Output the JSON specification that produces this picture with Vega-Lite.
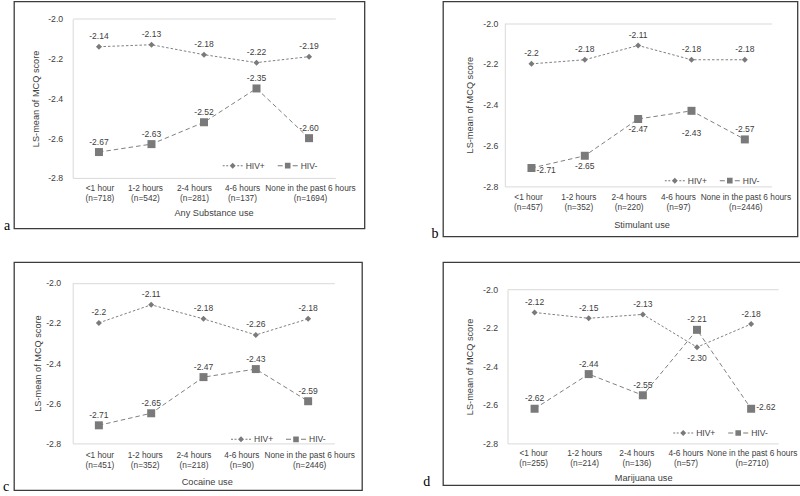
{
  "$schema": "https://vega.github.io/schema/vega-lite/v6.json",
  "background": "white",
  "padding": {"left": 2, "top": 0.5, "right": 0, "bottom": 0},
  "columns": 2,
  "bounds": "flush",
  "spacing": {"row": 25.7, "column": 78},
  "resolve": {"scale": {"shape": "independent"}, "legend": {"shape": "independent"}},
  "config": {
    "font": "Liberation Sans",
    "view": {"stroke": "#3c3c3c", "strokeWidth": 1.3},
    "axis": {"labelFont": "Liberation Sans", "titleFont": "Liberation Sans", "labelFontSize": 8.7, "titleFontSize": 9.2, "labelColor": "#404040", "titleColor": "#404040", "titleFontWeight": "normal", "ticks": false, "domainColor": "#d9d9d9", "domainWidth": 1},
    "axisX": {"labelFontSize": 8.3},
    "text": {"font": "Liberation Sans", "fontSize": 8.5, "color": "#404040", "baseline": "middle"},
    "title": {"font": "Liberation Serif", "fontSize": 14, "fontWeight": "normal", "color": "#000000"},
    "legend": {"labelFont": "Liberation Sans", "labelFontSize": 8.5, "labelColor": "#404040", "symbolSize": 400, "direction": "horizontal", "padding": 0, "labelOffset": 3, "columnPadding": 12, "symbolStrokeWidth": 0, "symbolFillColor": "#7a7a7a", "symbolOpacity": 1}
  },
  "concat": [
    {
      "width": 350.5, "height": 227,
      "title": {"text": "a", "orient": "bottom", "anchor": "start", "frame": "group", "dx": -10, "offset": 1, "baseline": "alphabetic"},
      "data": {"values": [
        {"group": "<1 hour (n=718)", "series": "HIV+", "value": -2.14, "label": "-2.14"},
        {"group": "1-2 hours (n=542)", "series": "HIV+", "value": -2.13, "label": "-2.13"},
        {"group": "2-4 hours (n=281)", "series": "HIV+", "value": -2.18, "label": "-2.18"},
        {"group": "4-6 hours (n=137)", "series": "HIV+", "value": -2.22, "label": "-2.22"},
        {"group": "None in the past 6 hours (n=1694)", "series": "HIV+", "value": -2.19, "label": "-2.19"},
        {"group": "<1 hour (n=718)", "series": "HIV-", "value": -2.67, "label": "-2.67"},
        {"group": "1-2 hours (n=542)", "series": "HIV-", "value": -2.63, "label": "-2.63"},
        {"group": "2-4 hours (n=281)", "series": "HIV-", "value": -2.52, "label": "-2.52"},
        {"group": "4-6 hours (n=137)", "series": "HIV-", "value": -2.35, "label": "-2.35"},
        {"group": "None in the past 6 hours (n=1694)", "series": "HIV-", "value": -2.60, "label": "-2.60"}
      ]},
      "encoding": {
        "x": {"field": "group", "type": "nominal", "title": "Any Substance use",
          "scale": {"type": "band", "domain": ["<1 hour (n=718)", "1-2 hours (n=542)", "2-4 hours (n=281)", "4-6 hours (n=137)", "None in the past 6 hours (n=1694)"], "range": [58.7, 321.3], "paddingInner": 0, "paddingOuter": 0},
          "axis": {"title": "Any Substance use", "offset": -50.6, "labelPadding": 5.8, "titleX": 199.5, "titleY": 34.2, "titleBaseline": "middle", "labelExpr": "[slice(datum.label, 0, indexof(datum.label, ' (')), slice(datum.label, indexof(datum.label, ' (') + 1)]", "labelOffset": {"condition": [{"test": "indexof(datum.value, '1-2') === 0", "value": -6}, {"test": "indexof(datum.value, '2-4') === 0", "value": -9.5}, {"test": "indexof(datum.value, '4-6') === 0", "value": -14}, {"test": "indexof(datum.value, 'None') === 0", "value": 1.5}], "value": 1}, "labelAngle": 0, "labelLineHeight": 10, "labelOverlap": false, "labelLimit": 300, "grid": false}},
        "y": {"field": "value", "type": "quantitative", "title": "LS-mean of MCQ score",
          "scale": {"domain": [-2.8, -2.0], "range": [176.4, 17.4], "nice": false, "zero": false},
          "axis": {"title": "LS-mean of MCQ score", "offset": -58.7, "labelPadding": 10, "titleX": -36.7, "titleBaseline": "middle", "values": [-2.8, -2.6, -2.4, -2.2, -2.0], "labelExpr": "replace(format(datum.value, '.1f'), '\u2212', '-')", "grid": true, "gridColor": {"condition": {"test": "datum.value > -2.05", "value": "#d9d9d9"}, "value": "transparent"}}}
      },
      "layer": [
        {"data": {"values": [{}]}, "mark": {"type": "rule", "color": "#d9d9d9", "strokeWidth": 1}, "encoding": {"x": {"datum": "None in the past 6 hours (n=1694)", "type": "nominal", "bandPosition": 1}, "y": {"datum": -2.0, "type": "quantitative"}, "y2": {"datum": -2.8}}},
        {"transform": [{"filter": "datum.series === 'HIV+'"}], "mark": {"type": "line", "color": "#808080", "strokeWidth": 1, "strokeDash": [2.5, 2]}, "encoding": {"order": {"value": null}}},
        {"transform": [{"filter": "datum.series === 'HIV-'"}], "mark": {"type": "line", "color": "#808080", "strokeWidth": 1, "strokeDash": [4.5, 3]}, "encoding": {"order": {"value": null}}},
        {"transform": [{"filter": "datum.series === 'HIV+'"}], "mark": {"type": "point", "shape": "diamond", "filled": true, "size": 36, "color": "#7a7a7a", "opacity": 1}},
        {"transform": [{"filter": "datum.series === 'HIV-'"}], "mark": {"type": "point", "shape": "square", "filled": true, "size": 64, "color": "#7a7a7a", "opacity": 1}},
        {"transform": [{"filter": "false"}], "mark": {"type": "point", "fill": "#7a7a7a", "filled": true, "opacity": 1}, "encoding": {"shape": {"field": "series", "type": "nominal", "scale": {"domain": ["HIV+", "HIV-"], "range": ["M-1,-0.05H-0.8V0.05H-1ZM-0.65,-0.05H-0.45V0.05H-0.65ZM0.45,-0.05H0.65V0.05H0.45ZM0.8,-0.05H1V0.05H0.8ZM0,-0.3L0.3,0L0,0.3L-0.3,0Z", "M-1,-0.05H-0.5V0.05H-1ZM0.5,-0.05H1V0.05H0.5ZM-0.28,-0.28H0.28V0.28H-0.28Z"]}, "legend": {"title": null, "orient": "none", "legendX": 208.7, "legendY": 153.9, "encode": {"symbols": {"fill": {"value": "#7a7a7a"}, "opacity": {"value": 1}}}}}}},
        {"mark": {"type": "text", "dy": -10.5}, "encoding": {"text": {"field": "label"}}}
      ]
    },
    {
      "width": 354.5, "height": 235,
      "title": {"text": "b", "orient": "bottom", "anchor": "start", "frame": "group", "dx": -11.5, "offset": 1, "baseline": "alphabetic"},
      "data": {"values": [
        {"group": "<1 hour (n=457)", "series": "HIV+", "value": -2.2, "label": "-2.2"},
        {"group": "1-2 hours (n=352)", "series": "HIV+", "value": -2.18, "label": "-2.18"},
        {"group": "2-4 hours (n=220)", "series": "HIV+", "value": -2.11, "label": "-2.11"},
        {"group": "4-6 hours (n=97)", "series": "HIV+", "value": -2.18, "label": "-2.18"},
        {"group": "None in the past 6 hours (n=2446)", "series": "HIV+", "value": -2.18, "label": "-2.18"},
        {"group": "<1 hour (n=457)", "series": "HIV-", "value": -2.71, "label": "-2.71"},
        {"group": "1-2 hours (n=352)", "series": "HIV-", "value": -2.65, "label": "-2.65"},
        {"group": "2-4 hours (n=220)", "series": "HIV-", "value": -2.47, "label": "-2.47"},
        {"group": "4-6 hours (n=97)", "series": "HIV-", "value": -2.43, "label": "-2.43"},
        {"group": "None in the past 6 hours (n=2446)", "series": "HIV-", "value": -2.57, "label": "-2.57"}
      ]},
      "encoding": {
        "x": {"field": "group", "type": "nominal", "title": "Stimulant use",
          "scale": {"type": "band", "domain": ["<1 hour (n=457)", "1-2 hours (n=352)", "2-4 hours (n=220)", "4-6 hours (n=97)", "None in the past 6 hours (n=2446)"], "range": [61.8, 328.5], "paddingInner": 0, "paddingOuter": 0},
          "axis": {"title": "Stimulant use", "offset": -50.1, "labelPadding": 5.6, "titleX": 198.5, "titleY": 37.9, "titleBaseline": "middle", "labelExpr": "[slice(datum.label, 0, indexof(datum.label, ' (')), slice(datum.label, indexof(datum.label, ' (') + 1)]", "labelOffset": {"condition": [{"test": "indexof(datum.value, '1-2') === 0", "value": -6}, {"test": "indexof(datum.value, '2-4') === 0", "value": -9}, {"test": "indexof(datum.value, '4-6') === 0", "value": -13}, {"test": "indexof(datum.value, 'None') === 0", "value": 1}], "value": -3}, "labelAngle": 0, "labelLineHeight": 10, "labelOverlap": false, "labelLimit": 300, "grid": false}},
        "y": {"field": "value", "type": "quantitative", "title": "LS-mean of MCQ score",
          "scale": {"domain": [-2.8, -2.0], "range": [184.9, 21.5], "nice": false, "zero": false},
          "axis": {"title": "LS-mean of MCQ score", "offset": -61.8, "labelPadding": 7, "titleX": -35.3, "titleBaseline": "middle", "values": [-2.8, -2.6, -2.4, -2.2, -2.0], "labelExpr": "replace(format(datum.value, '.1f'), '\u2212', '-')", "grid": true, "gridColor": {"condition": {"test": "datum.value > -2.05", "value": "#d9d9d9"}, "value": "transparent"}}}
      },
      "layer": [
        {"data": {"values": [{}]}, "mark": {"type": "rule", "color": "#d9d9d9", "strokeWidth": 1}, "encoding": {"x": {"datum": "None in the past 6 hours (n=2446)", "type": "nominal", "bandPosition": 1}, "y": {"datum": -2.0, "type": "quantitative"}, "y2": {"datum": -2.8}}},
        {"transform": [{"filter": "datum.series === 'HIV+'"}], "mark": {"type": "line", "color": "#808080", "strokeWidth": 1, "strokeDash": [2.5, 2]}, "encoding": {"order": {"value": null}}},
        {"transform": [{"filter": "datum.series === 'HIV-'"}], "mark": {"type": "line", "color": "#808080", "strokeWidth": 1, "strokeDash": [4.5, 3]}, "encoding": {"order": {"value": null}}},
        {"transform": [{"filter": "datum.series === 'HIV+'"}], "mark": {"type": "point", "shape": "diamond", "filled": true, "size": 36, "color": "#7a7a7a", "opacity": 1}},
        {"transform": [{"filter": "datum.series === 'HIV-'"}], "mark": {"type": "point", "shape": "square", "filled": true, "size": 64, "color": "#7a7a7a", "opacity": 1}},
        {"transform": [{"filter": "false"}], "mark": {"type": "point", "fill": "#7a7a7a", "filled": true, "opacity": 1}, "encoding": {"shape": {"field": "series", "type": "nominal", "scale": {"domain": ["HIV+", "HIV-"], "range": ["M-1,-0.05H-0.8V0.05H-1ZM-0.65,-0.05H-0.45V0.05H-0.65ZM0.45,-0.05H0.65V0.05H0.45ZM0.8,-0.05H1V0.05H0.8ZM0,-0.3L0.3,0L0,0.3L-0.3,0Z", "M-1,-0.05H-0.5V0.05H-1ZM0.5,-0.05H1V0.05H0.5ZM-0.28,-0.28H0.28V0.28H-0.28Z"]}, "legend": {"title": null, "orient": "none", "legendX": 221.8, "legendY": 168.9, "encode": {"symbols": {"fill": {"value": "#7a7a7a"}, "opacity": {"value": 1}}}}}}},
        {"transform": [{"filter": "datum.series === 'HIV+' || datum.group === 'None in the past 6 hours (n=2446)'"}], "mark": {"type": "text", "dy": -10.5}, "encoding": {"text": {"field": "label"}}},
        {"transform": [{"filter": "datum.series === 'HIV-' && (datum.group === '1-2 hours (n=352)' || datum.group === '2-4 hours (n=220)')"}], "mark": {"type": "text", "dy": 10}, "encoding": {"text": {"field": "label"}}},
        {"transform": [{"filter": "datum.series === 'HIV-' && datum.group === '4-6 hours (n=97)'"}], "mark": {"type": "text", "dy": 22}, "encoding": {"text": {"field": "label"}}},
        {"transform": [{"filter": "datum.series === 'HIV-' && datum.group === '<1 hour (n=457)'"}], "mark": {"type": "text", "dx": 5, "dy": 2, "align": "left"}, "encoding": {"text": {"field": "label"}}}
      ]
    },
    {
      "width": 348, "height": 228,
      "title": {"text": "c", "orient": "bottom", "anchor": "start", "frame": "group", "dx": -11, "offset": 1, "baseline": "alphabetic"},
      "data": {"values": [
        {"group": "<1 hour (n=451)", "series": "HIV+", "value": -2.2, "label": "-2.2"},
        {"group": "1-2 hours (n=352)", "series": "HIV+", "value": -2.11, "label": "-2.11"},
        {"group": "2-4 hours (n=218)", "series": "HIV+", "value": -2.18, "label": "-2.18"},
        {"group": "4-6 hours (n=90)", "series": "HIV+", "value": -2.26, "label": "-2.26"},
        {"group": "None in the past 6 hours (n=2446)", "series": "HIV+", "value": -2.18, "label": "-2.18"},
        {"group": "<1 hour (n=451)", "series": "HIV-", "value": -2.71, "label": "-2.71"},
        {"group": "1-2 hours (n=352)", "series": "HIV-", "value": -2.65, "label": "-2.65"},
        {"group": "2-4 hours (n=218)", "series": "HIV-", "value": -2.47, "label": "-2.47"},
        {"group": "4-6 hours (n=90)", "series": "HIV-", "value": -2.43, "label": "-2.43"},
        {"group": "None in the past 6 hours (n=2446)", "series": "HIV-", "value": -2.59, "label": "-2.59"}
      ]},
      "encoding": {
        "x": {"field": "group", "type": "nominal", "title": "Cocaine use",
          "scale": {"type": "band", "domain": ["<1 hour (n=451)", "1-2 hours (n=352)", "2-4 hours (n=218)", "4-6 hours (n=90)", "None in the past 6 hours (n=2446)"], "range": [58.7, 320.3], "paddingInner": 0, "paddingOuter": 0},
          "axis": {"title": "Cocaine use", "offset": -46.8, "labelPadding": 6.7, "titleX": 192.7, "titleY": 38.3, "titleBaseline": "middle", "labelExpr": "[slice(datum.label, 0, indexof(datum.label, ' (')), slice(datum.label, indexof(datum.label, ' (') + 1)]", "labelOffset": {"condition": [{"test": "indexof(datum.value, '1-2') === 0", "value": -6}, {"test": "indexof(datum.value, '2-4') === 0", "value": -9.5}, {"test": "indexof(datum.value, '4-6') === 0", "value": -14}, {"test": "indexof(datum.value, 'None') === 0", "value": 1.5}], "value": 1}, "labelAngle": 0, "labelLineHeight": 10, "labelOverlap": false, "labelLimit": 300, "grid": false}},
        "y": {"field": "value", "type": "quantitative", "title": "LS-mean of MCQ score",
          "scale": {"domain": [-2.8, -2.0], "range": [181.2, 20.5], "nice": false, "zero": false},
          "axis": {"title": "LS-mean of MCQ score", "offset": -58.7, "labelPadding": 12, "titleX": -35, "titleBaseline": "middle", "values": [-2.8, -2.6, -2.4, -2.2, -2.0], "labelExpr": "replace(format(datum.value, '.1f'), '\u2212', '-')", "grid": true, "gridColor": {"condition": {"test": "datum.value > -2.05", "value": "#d9d9d9"}, "value": "transparent"}}}
      },
      "layer": [
        {"data": {"values": [{}]}, "mark": {"type": "rule", "color": "#d9d9d9", "strokeWidth": 1}, "encoding": {"x": {"datum": "None in the past 6 hours (n=2446)", "type": "nominal", "bandPosition": 1}, "y": {"datum": -2.0, "type": "quantitative"}, "y2": {"datum": -2.8}}},
        {"transform": [{"filter": "datum.series === 'HIV+'"}], "mark": {"type": "line", "color": "#808080", "strokeWidth": 1, "strokeDash": [2.5, 2]}, "encoding": {"order": {"value": null}}},
        {"transform": [{"filter": "datum.series === 'HIV-'"}], "mark": {"type": "line", "color": "#808080", "strokeWidth": 1, "strokeDash": [4.5, 3]}, "encoding": {"order": {"value": null}}},
        {"transform": [{"filter": "datum.series === 'HIV+'"}], "mark": {"type": "point", "shape": "diamond", "filled": true, "size": 36, "color": "#7a7a7a", "opacity": 1}},
        {"transform": [{"filter": "datum.series === 'HIV-'"}], "mark": {"type": "point", "shape": "square", "filled": true, "size": 64, "color": "#7a7a7a", "opacity": 1}},
        {"transform": [{"filter": "false"}], "mark": {"type": "point", "fill": "#7a7a7a", "filled": true, "opacity": 1}, "encoding": {"shape": {"field": "series", "type": "nominal", "scale": {"domain": ["HIV+", "HIV-"], "range": ["M-1,-0.05H-0.8V0.05H-1ZM-0.65,-0.05H-0.45V0.05H-0.65ZM0.45,-0.05H0.65V0.05H0.45ZM0.8,-0.05H1V0.05H0.8ZM0,-0.3L0.3,0L0,0.3L-0.3,0Z", "M-1,-0.05H-0.5V0.05H-1ZM0.5,-0.05H1V0.05H0.5ZM-0.28,-0.28H0.28V0.28H-0.28Z"]}, "legend": {"title": null, "orient": "none", "legendX": 217, "legendY": 166.9, "encode": {"symbols": {"fill": {"value": "#7a7a7a"}, "opacity": {"value": 1}}}}}}},
        {"mark": {"type": "text", "dy": -10.5}, "encoding": {"text": {"field": "label"}}}
      ]
    },
    {
      "width": 357.5, "height": 223,
      "title": {"text": "d", "orient": "bottom", "anchor": "start", "frame": "group", "dx": -19.8, "offset": 1, "baseline": "alphabetic"},
      "data": {"values": [
        {"group": "<1 hour (n=255)", "series": "HIV+", "value": -2.12, "label": "-2.12"},
        {"group": "1-2 hours (n=214)", "series": "HIV+", "value": -2.15, "label": "-2.15"},
        {"group": "2-4 hours (n=136)", "series": "HIV+", "value": -2.13, "label": "-2.13"},
        {"group": "4-6 hours (n=57)", "series": "HIV+", "value": -2.30, "label": "-2.30"},
        {"group": "None in the past 6 hours (n=2710)", "series": "HIV+", "value": -2.18, "label": "-2.18"},
        {"group": "<1 hour (n=255)", "series": "HIV-", "value": -2.62, "label": "-2.62"},
        {"group": "1-2 hours (n=214)", "series": "HIV-", "value": -2.44, "label": "-2.44"},
        {"group": "2-4 hours (n=136)", "series": "HIV-", "value": -2.55, "label": "-2.55"},
        {"group": "4-6 hours (n=57)", "series": "HIV-", "value": -2.21, "label": "-2.21"},
        {"group": "None in the past 6 hours (n=2710)", "series": "HIV-", "value": -2.62, "label": "-2.62"}
      ]},
      "encoding": {
        "x": {"field": "group", "type": "nominal", "title": "Marijuana use",
          "scale": {"type": "band", "domain": ["<1 hour (n=255)", "1-2 hours (n=214)", "2-4 hours (n=136)", "4-6 hours (n=57)", "None in the past 6 hours (n=2710)"], "range": [64.5, 335.2], "paddingInner": 0, "paddingOuter": 0},
          "axis": {"title": "Marijuana use", "offset": -41.8, "labelPadding": 5, "titleX": 200.2, "titleY": 34.3, "titleBaseline": "middle", "labelExpr": "[slice(datum.label, 0, indexof(datum.label, ' (')), slice(datum.label, indexof(datum.label, ' (') + 1)]", "labelOffset": {"condition": [{"test": "indexof(datum.value, '1-2') === 0", "value": -4}, {"test": "indexof(datum.value, '2-4') === 0", "value": -6}, {"test": "indexof(datum.value, '4-6') === 0", "value": -11}, {"test": "indexof(datum.value, 'None') === 0", "value": 1}], "value": -1}, "labelAngle": 0, "labelLineHeight": 10, "labelOverlap": false, "labelLimit": 300, "grid": false}},
        "y": {"field": "value", "type": "quantitative", "title": "LS-mean of MCQ score",
          "scale": {"domain": [-2.8, -2.0], "range": [181.2, 27.2], "nice": false, "zero": false},
          "axis": {"title": "LS-mean of MCQ score", "offset": -64.5, "labelPadding": 10, "titleX": -37.7, "titleBaseline": "middle", "values": [-2.8, -2.6, -2.4, -2.2, -2.0], "labelExpr": "replace(format(datum.value, '.1f'), '\u2212', '-')", "grid": true, "gridColor": {"condition": {"test": "datum.value > -2.05", "value": "#d9d9d9"}, "value": "transparent"}}}
      },
      "layer": [
        {"data": {"values": [{}]}, "mark": {"type": "rule", "color": "#d9d9d9", "strokeWidth": 1}, "encoding": {"x": {"datum": "None in the past 6 hours (n=2710)", "type": "nominal", "bandPosition": 1}, "y": {"datum": -2.0, "type": "quantitative"}, "y2": {"datum": -2.8}}},
        {"transform": [{"filter": "datum.series === 'HIV+'"}], "mark": {"type": "line", "color": "#808080", "strokeWidth": 1, "strokeDash": [2.5, 2]}, "encoding": {"order": {"value": null}}},
        {"transform": [{"filter": "datum.series === 'HIV-'"}], "mark": {"type": "line", "color": "#808080", "strokeWidth": 1, "strokeDash": [4.5, 3]}, "encoding": {"order": {"value": null}}},
        {"transform": [{"filter": "datum.series === 'HIV+'"}], "mark": {"type": "point", "shape": "diamond", "filled": true, "size": 36, "color": "#7a7a7a", "opacity": 1}},
        {"transform": [{"filter": "datum.series === 'HIV-'"}], "mark": {"type": "point", "shape": "square", "filled": true, "size": 64, "color": "#7a7a7a", "opacity": 1}},
        {"transform": [{"filter": "false"}], "mark": {"type": "point", "fill": "#7a7a7a", "filled": true, "opacity": 1}, "encoding": {"shape": {"field": "series", "type": "nominal", "scale": {"domain": ["HIV+", "HIV-"], "range": ["M-1,-0.05H-0.8V0.05H-1ZM-0.65,-0.05H-0.45V0.05H-0.65ZM0.45,-0.05H0.65V0.05H0.45ZM0.8,-0.05H1V0.05H0.8ZM0,-0.3L0.3,0L0,0.3L-0.3,0Z", "M-1,-0.05H-0.5V0.05H-1ZM0.5,-0.05H1V0.05H0.5ZM-0.28,-0.28H0.28V0.28H-0.28Z"]}, "legend": {"title": null, "orient": "none", "legendX": 230.2, "legendY": 160.5, "encode": {"symbols": {"fill": {"value": "#7a7a7a"}, "opacity": {"value": 1}}}}}}},
        {"transform": [{"filter": "!(datum.series === 'HIV+' && datum.group === '4-6 hours (n=57)') && !(datum.series === 'HIV-' && datum.group === 'None in the past 6 hours (n=2710)')"}], "mark": {"type": "text", "dy": -10.5}, "encoding": {"text": {"field": "label"}}},
        {"transform": [{"filter": "datum.series === 'HIV+' && datum.group === '4-6 hours (n=57)'"}], "mark": {"type": "text", "dy": 11}, "encoding": {"text": {"field": "label"}}},
        {"transform": [{"filter": "datum.series === 'HIV-' && datum.group === 'None in the past 6 hours (n=2710)'"}], "mark": {"type": "text", "dx": 5, "dy": -2, "align": "left"}, "encoding": {"text": {"field": "label"}}}
      ]
    }
  ]
}
